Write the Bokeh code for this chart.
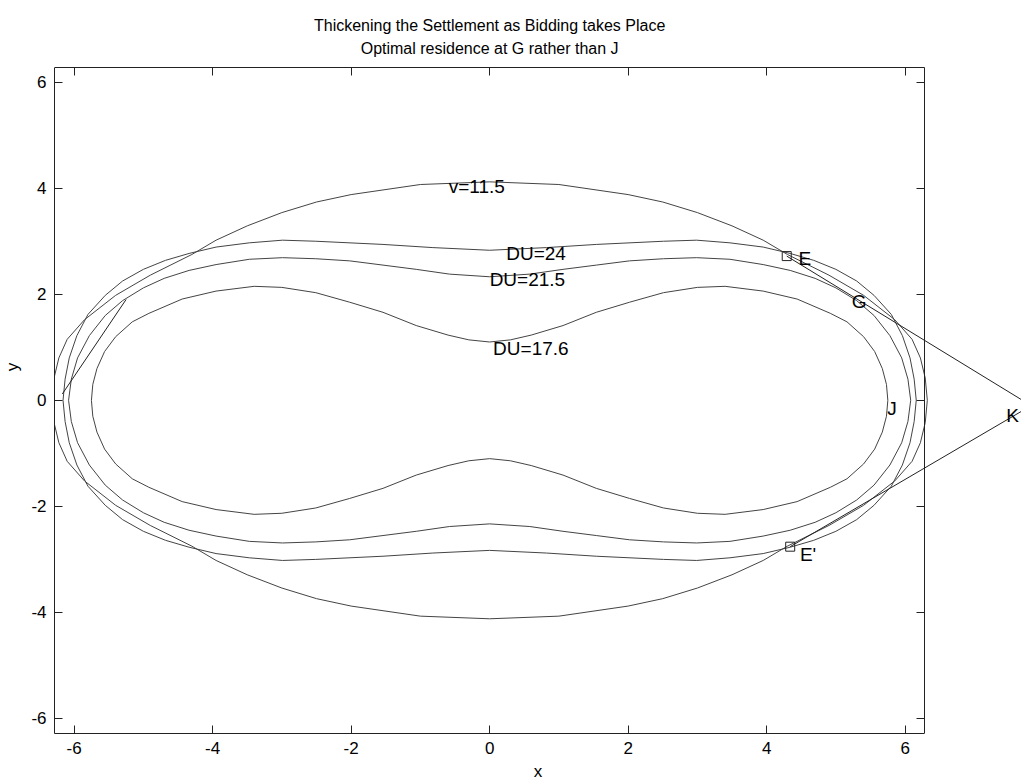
import numpy as np
from bokeh.plotting import figure
from bokeh.models import Range1d, LinearAxis, FixedTicker
from bokeh.embed import file_html
from bokeh.resources import INLINE
from bokeh.core.properties import value

TWO_PI = 2 * np.pi
X_END = 7.68      # right edge of the picture, in x units
Y_END = 7.54      # top edge of the picture, in y units
FONT = "Liberation Sans"

# ---- data: upper-right quarter of each closed curve (x >= 0, y >= 0) ----
v_x = [0.0, 1.0, 2.0, 2.5, 3.0, 3.5, 3.95, 4.3, 4.9, 5.4, 5.85, 6.1, 6.22, 6.29, 6.32]
v_y = [4.12, 4.07, 3.88, 3.74, 3.54, 3.29, 3.02, 2.75, 2.36, 1.98, 1.52, 1.15, 0.80, 0.42, 0.0]

du24_x = [0.0, 0.82, 1.54, 2.51, 2.99, 3.47, 3.95, 4.34, 4.68, 5.0, 5.3, 5.55, 5.8, 5.96, 6.07, 6.13, 6.16]
du24_y = [2.83, 2.88, 2.94, 3.00, 3.02, 2.97, 2.89, 2.77, 2.64, 2.47, 2.25, 1.98, 1.62, 1.22, 0.80, 0.40, 0.0]

du21_x = [0.0, 0.58, 1.06, 1.54, 2.02, 2.51, 2.99, 3.47, 3.95, 4.34, 4.7, 5.0, 5.3, 5.55, 5.78, 5.95, 6.04, 6.08]
du21_y = [2.33, 2.38, 2.47, 2.55, 2.63, 2.67, 2.69, 2.66, 2.56, 2.45, 2.30, 2.12, 1.88, 1.60, 1.22, 0.80, 0.40, 0.0]

du17_x = [0.0, 0.3, 0.6, 1.06, 1.54, 2.02, 2.51, 3.0, 3.4, 3.95, 4.44, 4.92, 5.16, 5.4, 5.56, 5.67, 5.73, 5.75]
du17_y = [1.10, 1.14, 1.23, 1.41, 1.66, 1.85, 2.03, 2.13, 2.15, 2.06, 1.91, 1.64, 1.48, 1.20, 0.92, 0.60, 0.30, 0.0]

# special points
E = (4.29, 2.72)
E_prime = (4.34, -2.76)
K = (7.82, -0.10)
left_seg_x = [-6.17, -5.25]
left_seg_y = [0.12, 1.90]

# labels
label_text = ["v=11.5", "DU=24", "DU=21.5", "DU=17.6", "E", "G", "J", "E'", "K"]
label_x = [-0.59, 0.24, 0.0, 0.05, 4.46, 5.23, 5.74, 4.48, 7.46]
label_y = [4.04, 2.76, 2.28, 0.97, 2.67, 1.87, -0.16, -2.91, -0.28]

ticks = [-6, -4, -2, 0, 2, 4, 6]
title_lines = ["Thickening the Settlement as Bidding takes Place",
               "Optimal residence at G rather than J"]
title_y = [7.06, 6.64]


def closed(qx, qy):
    qx = np.asarray(qx, float)
    qy = np.asarray(qy, float)
    x = np.concatenate([qx, qx[::-1][1:], -qx[1:], -qx[::-1][1:]])
    y = np.concatenate([qy, -qy[::-1][1:], -qy[1:], qy[::-1][1:]])
    return x, y


p = figure(width=1021, height=783, output_backend="svg", toolbar_location=None, title=None,
           x_range=Range1d(-TWO_PI, X_END), y_range=Range1d(-TWO_PI, Y_END),
           x_axis_location=None, y_axis_location=None,
           min_border_left=54, min_border_right=0, min_border_top=0, min_border_bottom=48)
p.outline_line_color = None
p.background_fill_color = "white"
p.border_fill_color = "white"
for g in p.grid:
    g.visible = False

overrides = {t: str(t) for t in ticks}


def mk_axis(**kw):
    base = dict(ticker=FixedTicker(ticks=ticks), bounds=(-TWO_PI, TWO_PI),
                major_tick_in=8, major_tick_out=0, minor_tick_in=0, minor_tick_out=0,
                axis_line_color="#222222", major_tick_line_color="#222222",
                major_label_text_font=FONT, major_label_text_font_size="17px",
                major_label_text_color="black", major_label_overrides=overrides,
                axis_label_text_font=FONT, axis_label_text_font_size="17px",
                axis_label_text_font_style="normal", axis_label_text_color="black")
    base.update(kw)
    return LinearAxis(**base)


p.add_layout(mk_axis(axis_label="x", major_label_standoff=8, axis_label_standoff=5), "below")
p.add_layout(mk_axis(axis_label="y", major_label_standoff=8, axis_label_standoff=6), "left")
p.add_layout(mk_axis(major_label_text_color=None, major_label_text_font_size="1px",
                     major_label_standoff=0, fixed_location=TWO_PI), "above")
p.add_layout(mk_axis(major_label_text_color=None, major_label_text_font_size="1px",
                     major_label_standoff=0, fixed_location=TWO_PI), "right")

curve_color = "#444444"
for qx, qy in [(v_x, v_y), (du24_x, du24_y), (du21_x, du21_y), (du17_x, du17_y)]:
    cx, cy = closed(qx, qy)
    p.line(cx, cy, line_color=curve_color, line_width=1)

p.line(left_seg_x, left_seg_y, line_color="#222222", line_width=1)
p.line([E[0], K[0]], [E[1], K[1]], line_color="#222222", line_width=1)
p.line([E_prime[0], K[0]], [E_prime[1], K[1]], line_color="#222222", line_width=1)

p.scatter([E[0], E_prime[0]], [E[1], E_prime[1]], marker="square", size=9,
          fill_color=None, line_color="#222222", line_width=1)

p.text(label_x, label_y, text=label_text, text_font=value(FONT), text_font_size="19px",
       text_align="left", text_baseline="middle", text_color="black")

# title, centred over x = 0
p.text([0, 0], title_y, text=title_lines, text_font=value(FONT), text_font_size="16px",
       text_align="center", text_baseline="middle", text_color="black")

open("out.html", "w").write(file_html(p, INLINE))
